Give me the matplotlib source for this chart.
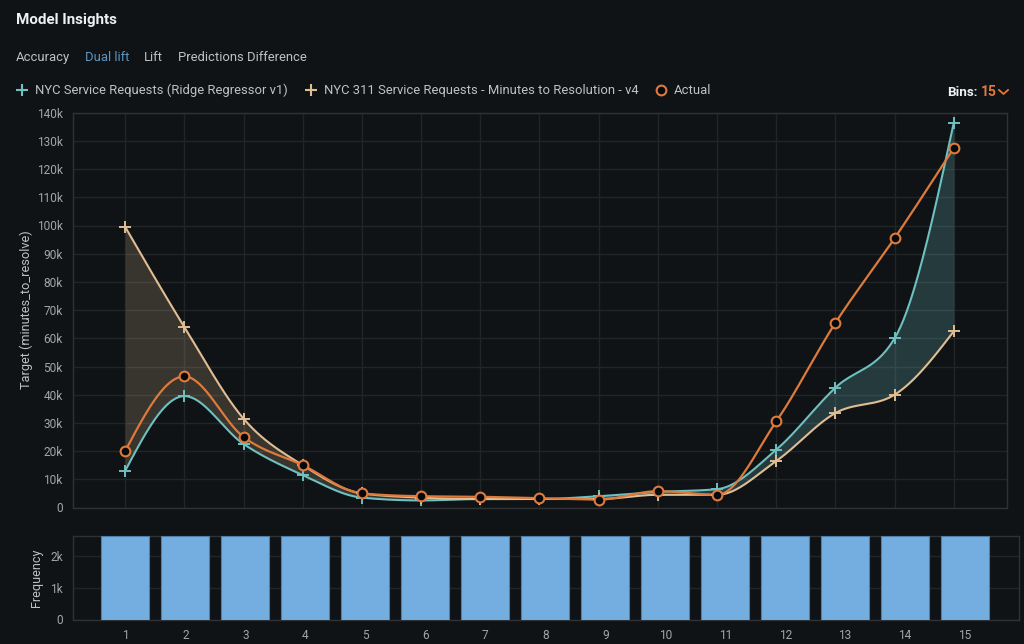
import numpy as np
import matplotlib
matplotlib.use("Agg")
import matplotlib.pyplot as plt
from matplotlib.ticker import FuncFormatter

plt.rcParams["font.family"] = ["Roboto", "DejaVu Sans"]

bins = [1, 2, 3, 4, 5, 6, 7, 8, 9, 10, 11, 12, 13, 14, 15]
ridge = [13, 39.5, 22.5, 11.5, 3.5, 2.5, 3, 3, 4, 5.5, 6.5, 20.5, 42.5, 60, 136.5]
v4 = [99.5, 64, 31.5, 15, 5, 3.5, 3, 3, 3, 4.5, 4.5, 16.5, 33.5, 40, 62.5]
actual = [20, 46.5, 25, 15, 5, 4, 3.8, 3.3, 2.8, 5.8, 4.5, 30.5, 65.5, 95.5, 127.5]
frequency = [2.6] * 15
tabs = ["Accuracy", "Dual lift", "Lift", "Predictions Difference"]

BG = "#0f1316"
GRID = "#212528"
TEXT = "#bfc2c4"
TICK = "#a3a6a8"
TEAL = "#6fc0c0"
TAN = "#e0bd92"
ORANGE = "#dd7a3c"
W, H = 1024, 644


def monotone(x, y, per_seg=40):
    # monotone cubic between the points, only used to draw the curved lines
    x = np.asarray(x, float)
    y = np.asarray(y, float)
    h = np.diff(x)
    s = np.diff(y) / h
    m = np.zeros_like(y)
    for i in range(1, len(y) - 1):
        if s[i - 1] * s[i] > 0:
            p = (s[i - 1] * h[i] + s[i] * h[i - 1]) / (h[i - 1] + h[i])
            m[i] = (np.sign(s[i - 1]) + np.sign(s[i])) * min(abs(s[i - 1]), abs(s[i]), 0.5 * abs(p))
    m[0] = (3 * s[0] - m[1]) / 2
    m[-1] = (3 * s[-1] - m[-2]) / 2
    xs, ys = [], []
    for i in range(len(h)):
        t = np.linspace(0, 1, per_seg, endpoint=False)
        a = (1 + 2 * t) * (1 - t) ** 2
        b = t * (1 - t) ** 2
        c = t ** 2 * (3 - 2 * t)
        d = t ** 2 * (t - 1)
        xs.append(x[i] + t * h[i])
        ys.append(a * y[i] + b * h[i] * m[i] + c * y[i + 1] + d * h[i] * m[i + 1])
    xs.append(x[-1:])
    ys.append(y[-1:])
    return np.concatenate(xs), np.concatenate(ys)


def axes_px(fig, left, top, right, bottom):
    return fig.add_axes([left / W, 1 - bottom / H, (right - left) / W, (bottom - top) / H])


def style_axes(ax):
    ax.set_facecolor(BG)
    for sp in ax.spines.values():
        sp.set_color("#2e3235")
        sp.set_linewidth(1)
    ax.tick_params(length=0, colors=TICK, labelsize=8.6, pad=7)
    ax.set_axisbelow(True)


fig = plt.figure(figsize=(W / 100, H / 100), dpi=100, facecolor=BG)

# lift chart
ax = axes_px(fig, 72.5, 112.7, 1006.5, 507.5)
style_axes(ax)
ax.set_xlim(0.11, 15.89)
ax.set_ylim(0, 140)
ax.set_xticks(bins)
ax.set_yticks(np.arange(0, 141, 10))
ax.tick_params(axis="x", labelbottom=False)
ax.yaxis.set_major_formatter(FuncFormatter(lambda v, _: "0" if v == 0 else f"{v:.0f}k"))
ax.grid(color=GRID, linewidth=1)
ax.set_ylabel("Target (minutes_to_resolve)", color=TEXT, fontsize=9.2, labelpad=3)

xs, y_ridge = monotone(bins, ridge)
_, y_v4 = monotone(bins, v4)
xa, y_act = monotone(bins, actual)
ax.fill_between(xs, y_ridge, y_v4, where=y_v4 >= y_ridge, interpolate=True, color=TAN, alpha=0.2, lw=0)
ax.fill_between(xs, y_ridge, y_v4, where=y_ridge >= y_v4, interpolate=True, color=TEAL, alpha=0.23, lw=0)
ax.plot(xs, y_ridge, color=TEAL, lw=1.5, zorder=3)
ax.plot(xs, y_v4, color=TAN, lw=1.5, zorder=3)
ax.plot(xa, y_act, color=ORANGE, lw=1.6, zorder=4)
ax.plot(bins, ridge, ls="", marker="+", ms=9, mew=1.4, color=TEAL, zorder=5, clip_on=False)
ax.plot(bins, v4, ls="", marker="+", ms=9, mew=1.4, color=TAN, zorder=5, clip_on=False)
ax.plot(bins, actual, ls="", marker="o", ms=7, mew=1.5, mfc="#06090b", mec=ORANGE, zorder=6, clip_on=False)

# frequency bars
ax2 = axes_px(fig, 72.5, 535.7, 1018.5, 619.5)
style_axes(ax2)
ax2.set_xlim(0.117, 15.89)
ax2.set_ylim(0, 2.62)
ax2.set_xticks(bins)
ax2.set_yticks([0, 1, 2])
ax2.set_yticklabels(["0", "1k", "2k"])
ax2.grid(axis="y", color=GRID, linewidth=1)
ax2.bar(bins, frequency, width=0.8, color="#74aee0", edgecolor="#4f7fa8", linewidth=0.8, zorder=3)
ax2.set_ylabel("Frequency", color=TEXT, fontsize=9, labelpad=5)

# page header, in pixel coordinates
top = fig.add_axes([0, 0, 1, 1], facecolor="none")
top.set_xlim(0, W)
top.set_ylim(H, 0)
top.axis("off")
top.text(16, 20, "Model Insights", color="#f0f0f0", fontsize=10.9, fontweight="bold", va="center")
for label, x in zip(tabs, [16, 85, 144, 178]):
    top.text(x, 57, label, color="#5b96c4" if label == "Dual lift" else TEXT, fontsize=9.4, va="center")

top.plot([22], [90], marker="+", ms=9, mew=1.5, color=TEAL)
top.text(35, 90, "NYC Service Requests (Ridge Regressor v1)", color=TEXT, fontsize=9.4, va="center")
top.plot([311], [90], marker="+", ms=9, mew=1.5, color=TAN)
top.text(324, 90, "NYC 311 Service Requests - Minutes to Resolution - v4", color=TEXT, fontsize=9.4, va="center")
top.plot([661], [90], marker="o", ms=7, mew=1.5, mfc="#06090b", mec=ORANGE)
top.text(674, 90, "Actual", color=TEXT, fontsize=9.4, va="center")
top.text(947, 92, "Bins:", color="#f0f0f0", fontsize=9.6, fontweight="bold", va="center")
top.text(981, 92, "15", color=ORANGE, fontsize=10, fontweight="bold", va="center")
top.plot([999, 1003.5, 1008], [90, 94, 90], color=ORANGE, lw=1.3)

fig.savefig("out.png", dpi=100, facecolor=BG)
